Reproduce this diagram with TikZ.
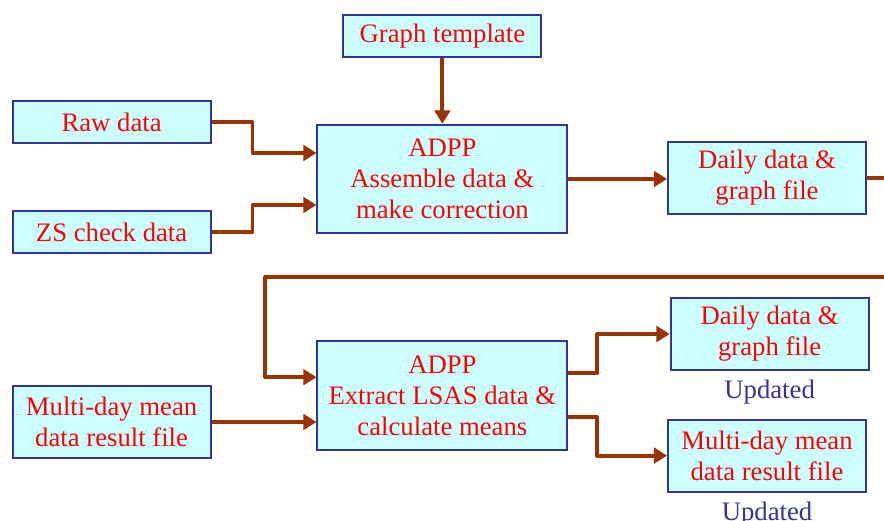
\documentclass[tikz,border=0pt]{standalone}
\usepackage{fontspec}
\setmainfont{Liberation Serif}
\newfontfamily\diagfont{Liberation Serif}
\usetikzlibrary{arrows.meta}
\definecolor{boxfill}{RGB}{204,255,255}
\definecolor{boxline}{RGB}{51,51,153}
\definecolor{txtred}{RGB}{255,0,0}
\definecolor{arrbrown}{RGB}{153,51,0}

\begin{document}
\begin{tikzpicture}[font=\diagfont\fontsize{19}{22}\selectfont,
  >={Triangle[length=3.3mm, width=3.9mm]},
  box/.style={draw=boxline, fill=boxfill, text=txtred, line width=1.3pt,
    align=center, inner sep=0pt, minimum width=4.95cm, minimum height=1.05cm},
  tall/.style={box, minimum height=1.8cm},
  proc/.style={box, minimum width=6.25cm, minimum height=2.72cm},
  arr/.style={->, line width=2.8pt, draw=arrbrown, line join=round},
  upd/.style={label={[text=boxline, yshift=-1mm]below:Updated}}]
  \useasboundingbox (0,0) rectangle (22.1,-13.025);

  \node[box] (tmpl) at (11.06,-0.89) {Graph template};
  \node[box] (raw) at (2.79,-3.06) {Raw data};
  \node[box] (zs) at (2.79,-5.81) {ZS check data};
  \node[proc] (asm) at (11.06,-4.475) {ADPP\\Assemble data \&\\make correction};
  \node[tall] (dailyA) at (19.175,-4.45) {Daily data \&\\graph file};

  \node[proc] (extr) at (11.06,-9.89) {ADPP\\Extract LSAS data \&\\calculate means};
  \node[tall] (meanIn) at (2.79,-10.55) {Multi-day mean\\data result file};
  \node[tall, upd] (dailyB) at (19.24,-8.35) {Daily data \&\\graph file};
  \node[tall, upd] (meanOut) at (19.175,-11.39) {Multi-day mean\\data result file};

  \coordinate (edgeA) at (22.1,-4.45);
  \coordinate (edgeB) at (22.1,-6.925);
  \coordinate (loop) at (6.625,-6.925);

  \draw[arr] (tmpl) -- (asm);
  \draw[arr] (raw.east) -- ++(1.025,0) |- ([yshift=6.5mm]asm.west);
  \draw[arr] (zs.east) -- ++(1.025,0) |- ([yshift=-6.5mm]asm.west);
  \draw[arr] (asm.east) -- (asm.east -| dailyA.west);
  \draw[arr, -] (dailyA.east) -- (edgeA);

  \draw[arr] (edgeB) -- (loop) |- ([yshift=4.6mm]extr.west);
  \draw[arr] (meanIn) -- (meanIn -| extr.west);
  \draw[arr] ([yshift=5.6mm]extr.east) -- ++(0.725,0) |- (dailyB.west);
  \draw[arr] ([yshift=-5.4mm]extr.east) -- ++(0.725,0) |- (meanOut.west);
\end{tikzpicture}
\end{document}
